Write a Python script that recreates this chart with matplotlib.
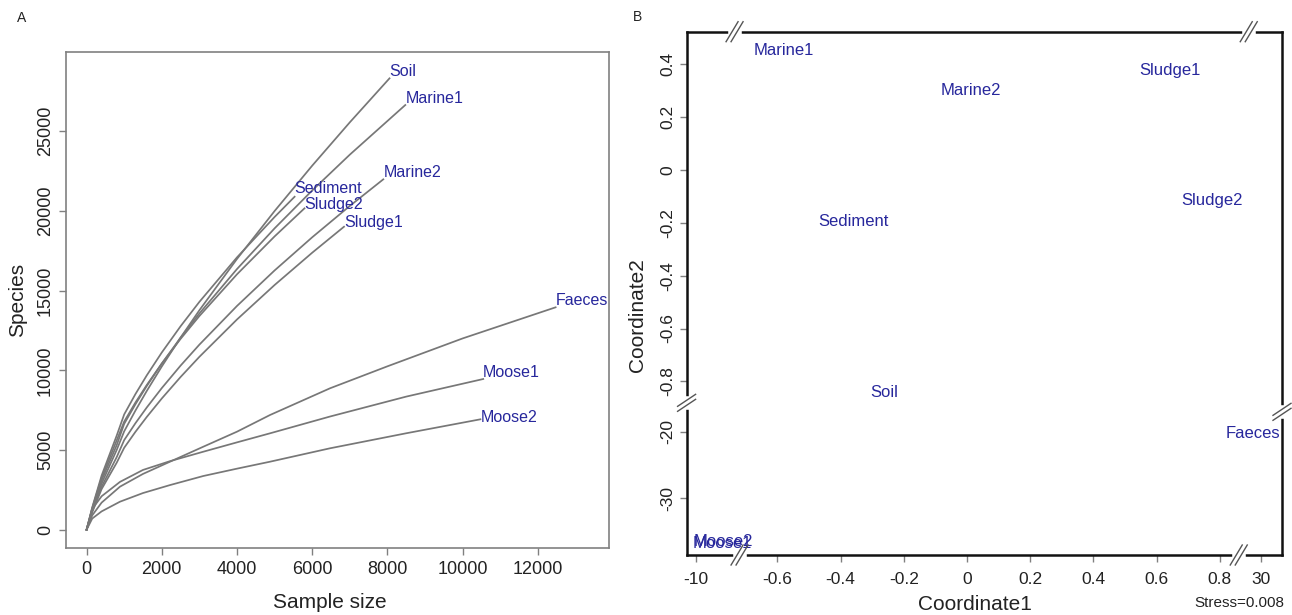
import numpy as np
import matplotlib
matplotlib.use("Agg")
import matplotlib.pyplot as plt

plt.rcParams['font.family'] = ['Liberation Sans', 'DejaVu Sans']

# ---- panel A: rarefaction curves (sample size, species) ----
soil_n = [0, 150, 400, 800, 1000, 1300, 1600, 2000, 2500, 3000, 4000, 5000, 6000, 7000, 8056]
soil_s = [0, 1200, 2900, 5000, 6173, 7479, 8703, 10241, 12052, 13769, 16988, 19993, 22839, 25557, 28318]
marine1_n = [0, 150, 400, 800, 1000, 1300, 1600, 2000, 2500, 3000, 4000, 5000, 6000, 7000, 8476]
marine1_s = [0, 1300, 3100, 5300, 6643, 7876, 9016, 10423, 12049, 13567, 16354, 18907, 21283, 23529, 26644]
marine2_n = [0, 150, 400, 800, 1000, 1300, 1600, 2000, 2500, 3000, 4000, 5000, 6000, 7000, 7891]
marine2_s = [0, 1150, 2700, 4550, 5623, 6685, 7667, 8885, 10296, 11611, 14038, 16266, 18346, 20311, 21982]
sediment_n = [0, 150, 400, 800, 1000, 1300, 1600, 2000, 2500, 3000, 4000, 5000, 5532]
sediment_s = [0, 1400, 3400, 5900, 7234, 8513, 9681, 11118, 12766, 14295, 17086, 19620, 20890]
sludge2_n = [0, 150, 400, 800, 1000, 1300, 1600, 2000, 2500, 3000, 4000, 5000, 5795]
sludge2_s = [0, 1350, 3250, 5600, 6785, 7983, 9077, 10426, 11973, 13406, 16024, 18401, 20163]
sludge1_n = [0, 150, 400, 800, 1000, 1300, 1600, 2000, 2500, 3000, 4000, 5000, 6000, 6846]
sludge1_s = [0, 1100, 2550, 4200, 5140, 6144, 7073, 8233, 9582, 10847, 13190, 15352, 17378, 19009]
faeces_n = [0, 150, 400, 888, 1500, 2218, 3104, 4000, 4878, 6473, 8000, 10000, 12473]
faeces_s = [0, 900, 1700, 2700, 3500, 4266, 5207, 6150, 7196, 8871, 10250, 12000, 13952]
moose1_n = [0, 150, 400, 888, 1500, 2218, 3104, 4000, 4878, 6473, 8500, 10548]
moose1_s = [0, 1300, 2100, 3000, 3750, 4300, 4893, 5480, 6047, 7100, 8350, 9454]
moose2_n = [0, 150, 400, 888, 1500, 2218, 3104, 4000, 4878, 6473, 8500, 10473]
moose2_s = [0, 700, 1150, 1757, 2300, 2800, 3369, 3830, 4266, 5107, 6050, 6926]

curves = [
    ('Soil', soil_n, soil_s), ('Marine1', marine1_n, marine1_s),
    ('Marine2', marine2_n, marine2_s), ('Sediment', sediment_n, sediment_s),
    ('Sludge2', sludge2_n, sludge2_s), ('Sludge1', sludge1_n, sludge1_s),
    ('Faeces', faeces_n, faeces_s), ('Moose1', moose1_n, moose1_s),
    ('Moose2', moose2_n, moose2_s),
]
# vertical nudge of the end labels (points)
label_dy = {'Sediment': 6, 'Sludge2': 3, 'Sludge1': 3, 'Moose2': 1}

# ---- panel B: NMDS ordination ----
nmds_labels = ['Marine1', 'Marine2', 'Sludge1', 'Sediment', 'Sludge2', 'Soil',
               'Faeces', 'Moose1', 'Moose2']
nmds_x = [-0.579, 0.013, 0.642, -0.359, 0.777, -0.263, 29.78, -9.30, -9.27]
nmds_y = [0.452, 0.302, 0.376, -0.196, -0.117, -0.841, -20.24, -36.7, -36.4]

x_ticks = [-10, -0.6, -0.4, -0.2, 0, 0.2, 0.4, 0.6, 0.8, 30]
x_ticklabels = ['-10', '-0.6', '-0.4', '-0.2', '0', '0.2', '0.4', '0.6', '0.8', '30']
y_ticks = [-30, -20, -0.8, -0.6, -0.4, -0.2, 0, 0.2, 0.4]
y_ticklabels = ['-30', '-20', '-0.8', '-0.6', '-0.4', '-0.2', '0', '0.2', '0.4']

W, H = 1292, 615
label_col = '#27279c'
grey = '#808080'

fig = plt.figure(figsize=(W / 100, H / 100), dpi=100)

# ================= panel A =================
axA = fig.add_axes([66.4 / W, 1 - 548 / H, 542.1 / W, 496 / H])
for name, n, s in curves:
    axA.plot(n, s, color='#777777', lw=1.25)
    axA.annotate(name, (n[-1], s[-1]), xytext=(0, label_dy.get(name, 5)),
                 textcoords='offset points', ha='left', va='center',
                 color=label_col, fontsize=11.5)
axA.set_xlim(-537, 13880)
axA.set_ylim(-1148, 29970)
axA.set_xticks(range(0, 12001, 2000))
axA.set_yticks(range(0, 25001, 5000))
for sp in axA.spines.values():
    sp.set_color(grey)
    sp.set_linewidth(1.2)
axA.tick_params(colors=grey, labelcolor='#222222', labelsize=13, length=5, width=1)
axA.tick_params(axis='x', pad=4)
axA.tick_params(axis='y', pad=4)
plt.setp(axA.get_yticklabels(), rotation=90, va='center')
fig.text(330 / W, 1 - 603 / H, 'Sample size', ha='center', va='center', fontsize=15, color='#222222')
fig.text(18 / W, 1 - 300 / H, 'Species', ha='center', va='center', rotation=90, fontsize=15, color='#222222')
fig.text(21.7 / W, 1 - 18.3 / H, 'A', ha='center', va='center', fontsize=10, color='#222222')

# ================= panel B (broken axes) =================
# piecewise scale: outer segments squeezed next to the gaps
s_x, s_y = 0.12, 0.02521
xk_in = [-300, -8.854, -0.72, 0.86, 29.41, 300]
xk_out = [-0.7201 - (300 - 8.854) * s_x, -0.7201, -0.72, 0.86, 0.8601, 0.8601 + (300 - 29.41) * s_x]
yk_in = [-300, -16.41, -0.9, 100]
yk_out = [-0.9001 - (300 - 16.41) * s_y, -0.9001, -0.9, 100]


def fwd(a, b):
    return lambda v: np.interp(np.asarray(v, float), a, b)


axB = fig.add_axes([686.6 / W, 1 - 555 / H, 595.4 / W, 523.3 / H])
axB.set_xscale('function', functions=(fwd(xk_in, xk_out), fwd(xk_out, xk_in)))
axB.set_yscale('function', functions=(fwd(yk_in, yk_out), fwd(yk_out, yk_in)))
axB.set_xlim(-10.25, 30.55)
axB.set_ylim(-38.5, 0.5235)
for lab, x, y in zip(nmds_labels, nmds_x, nmds_y):
    axB.text(x, y, lab, ha='center', va='center', color=label_col, fontsize=12)
axB.set_xticks(x_ticks)
axB.set_xticklabels(x_ticklabels)
axB.set_yticks(y_ticks)
axB.set_yticklabels(y_ticklabels)
axB.xaxis.set_minor_locator(plt.NullLocator())
axB.yaxis.set_minor_locator(plt.NullLocator())
for sp in axB.spines.values():
    sp.set_color('#111111')
    sp.set_linewidth(1.8)
axB.tick_params(colors=grey, labelcolor='#222222', labelsize=12.5, length=5, width=1)
axB.tick_params(axis='x', pad=7)
axB.tick_params(axis='y', pad=3)
plt.setp(axB.get_yticklabels(), rotation=90, va='center')

# break marks "//" on the spines
bw, bh = 595.4, 523.3


def brk(xa, ya, horizontal):
    if horizontal:
        axB.plot([xa - 4 / bw, xa + 4 / bw], [ya, ya], color='white', lw=4,
                 transform=axB.transAxes, clip_on=False, zorder=5)
        for o in (-2.5, 2.5):
            axB.plot([xa + (o - 6) / bw, xa + (o + 6) / bw], [ya - 10 / bh, ya + 10 / bh],
                     color='#555555', lw=1, transform=axB.transAxes, clip_on=False, zorder=6)
    else:
        axB.plot([xa, xa], [ya - 4 / bh, ya + 4 / bh], color='white', lw=4,
                 transform=axB.transAxes, clip_on=False, zorder=5)
        for o in (-2.5, 2.5):
            axB.plot([xa - 9 / bw, xa + 9 / bw], [ya + (o - 6) / bh, ya + (o + 6) / bh],
                     color='#555555', lw=1, transform=axB.transAxes, clip_on=False, zorder=6)


to_ax = axB.transAxes.inverted()
gx_lo = to_ax.transform(axB.transData.transform((-0.72, 0)))[0]
gx_hi = to_ax.transform(axB.transData.transform((0.86, 0)))[0]
gy = to_ax.transform(axB.transData.transform((0, -0.9)))[1]
brk(gx_lo - 5 / bw, 1, True)
brk(gx_hi + 10 / bw, 1, True)
brk(gx_lo, 0, True)
brk(gx_hi, 0, True)
brk(0, gy + 5 / bh, False)
brk(1, gy - 4 / bh, False)

fig.text(975 / W, 1 - 604 / H, 'Coordinate1', ha='center', va='center', fontsize=15, color='#222222')
fig.text(638 / W, 1 - 315 / H, 'Coordinate2', ha='center', va='center', rotation=90, fontsize=15, color='#222222')
fig.text(1284 / W, 1 - 603 / H, 'Stress=0.008', ha='right', va='center', fontsize=11, color='#222222')
fig.text(637 / W, 1 - 17.3 / H, 'B', ha='center', va='center', fontsize=10, color='#222222')

fig.savefig('out.png', dpi=100)
